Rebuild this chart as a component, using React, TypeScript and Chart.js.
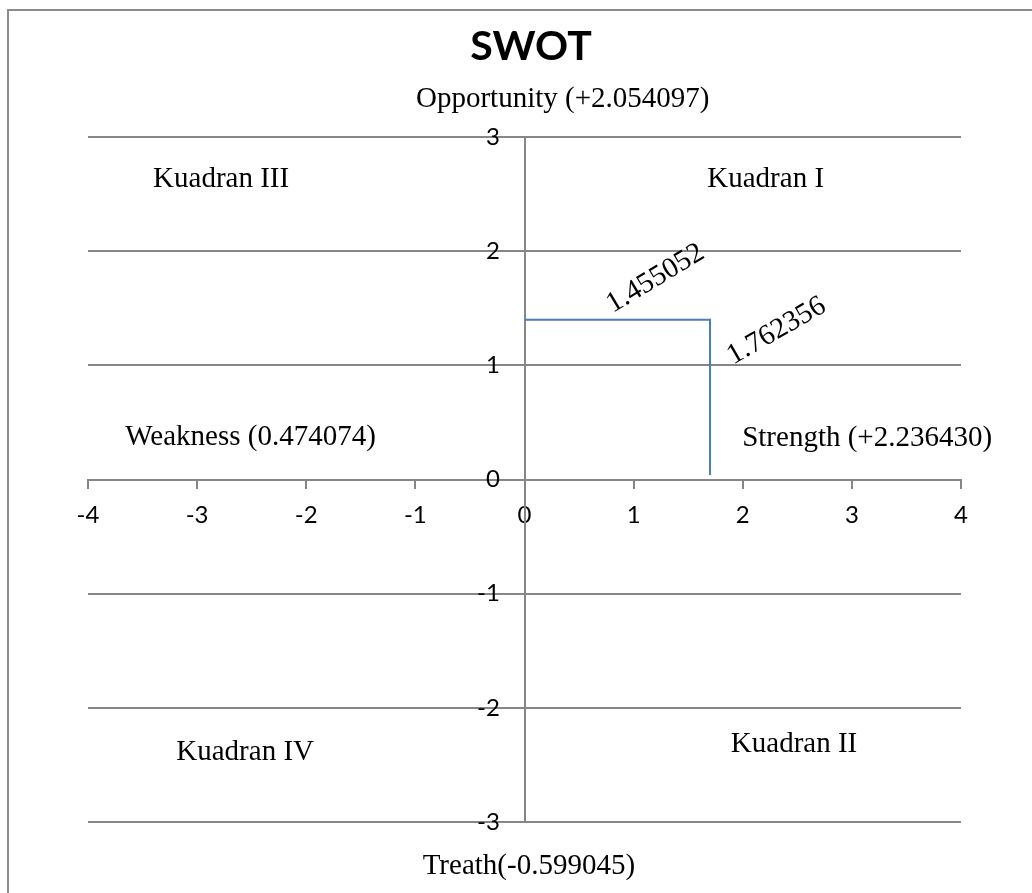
import React, { useEffect, useRef } from "react";
import { Chart, registerables } from "chart.js";

Chart.register(...registerables);

// Axis ranges and tick steps
const xRange = [-4, 4];
const yRange = [-3, 3];
const tickStep = 1;

// The single blue series (a corner path from the Y axis to the X axis)
const pathX = [0, 1.7, 1.7];
const pathY = [1.4, 1.4, 0.04];

// Text shown on the chart
const labelTexts = [
  "SWOT",
  "Opportunity (+2.054097)",
  "Treath(-0.599045)",
  "Kuadran III",
  "Kuadran I",
  "Weakness (0.474074)",
  "Strength (+2.236430)",
  "Kuadran IV",
  "Kuadran II",
  "1.455052",
  "1.762356",
];

const SERIF = '29px "Liberation Serif", "Times New Roman", serif';
const TITLE = 'bold 41px Lato, "Open Sans", sans-serif';

// Where each text sits, in data units of the chart's own scales
const labelPlacement = [
  { x: 0.06, y: 3.79, angle: 0, font: TITLE },
  { x: 0.35, y: 3.33, angle: 0, font: SERIF },
  { x: 0.04, y: -3.39, angle: 0, font: SERIF },
  { x: -2.78, y: 2.63, angle: 0, font: SERIF },
  { x: 2.21, y: 2.63, angle: 0, font: SERIF },
  { x: -2.51, y: 0.37, angle: 0, font: SERIF },
  { x: 3.14, y: 0.36, angle: 0, font: SERIF },
  { x: -2.56, y: -2.39, angle: 0, font: SERIF },
  { x: 2.47, y: -2.32, angle: 0, font: SERIF },
  { x: 1.2, y: 1.76, angle: -31, font: SERIF },
  { x: 2.31, y: 1.3, angle: -30, font: SERIF },
];

const GRID = "#868686";
const TICK_FONT = { family: 'Lato, "Open Sans", sans-serif', size: 24 };

const textPlugin = {
  id: "swotText",
  afterDraw(chart: any) {
    const { ctx } = chart;
    const xs = chart.scales.x;
    const ys = chart.scales.y;
    labelTexts.forEach((t, i) => {
      const p = labelPlacement[i];
      ctx.save();
      ctx.translate(xs.getPixelForValue(p.x), ys.getPixelForValue(p.y));
      ctx.rotate((p.angle * Math.PI) / 180);
      ctx.font = p.font;
      ctx.fillStyle = "#000";
      ctx.textAlign = "center";
      ctx.textBaseline = "middle";
      ctx.fillText(t, 0, 0);
      ctx.restore();
    });
  },
};

export default function App() {
  const ref = useRef<HTMLCanvasElement | null>(null);

  useEffect(() => {
    if (!ref.current) return;
    const chart = new Chart(ref.current, {
      type: "scatter",
      data: {
        datasets: [
          {
            label: "SWOT",
            data: pathX.map((x, i) => ({ x, y: pathY[i] })),
            showLine: true,
            borderColor: "#4a7ebb",
            backgroundColor: "#4a7ebb",
            borderWidth: 2,
            pointRadius: 0,
            tension: 0,
          },
        ],
      },
      options: {
        animation: false,
        responsive: false,
        layout: { padding: { left: 88, right: 71, top: 137, bottom: 71 } },
        plugins: {
          legend: { display: false },
          title: { display: false },
          tooltip: { enabled: false },
        },
        scales: {
          x: {
            type: "linear",
            min: xRange[0],
            max: xRange[1],
            position: { y: 0 },
            afterFit: (s: any) => {
              s.height = 0;
            },
            ticks: {
              stepSize: tickStep,
              color: "#000",
              font: TICK_FONT,
              padding: 13,
              maxRotation: 0,
            },
            grid: {
              drawOnChartArea: false,
              drawTicks: true,
              tickLength: 8,
              color: GRID,
              lineWidth: 2,
            },
            border: { display: true, color: GRID, width: 2 },
          },
          y: {
            type: "linear",
            min: yRange[0],
            max: yRange[1],
            position: { x: 0 },
            afterFit: (s: any) => {
              s.width = 0;
            },
            ticks: {
              stepSize: tickStep,
              color: "#000",
              font: TICK_FONT,
              padding: 0,
              callback: (v: any) => String(v) + "    ",
            },
            grid: {
              drawOnChartArea: true,
              drawTicks: true,
              tickLength: 8,
              color: GRID,
              lineWidth: 2,
            },
            border: { display: true, color: GRID, width: 2 },
          },
        },
      },
      plugins: [textPlugin],
    });
    return () => chart.destroy();
  }, []);

  return (
    <div>
      <div
        style={{
          position: "fixed",
          left: 7,
          top: 9,
          width: 1100,
          height: 1000,
          borderLeft: "2px solid #8c8c8c",
          borderTop: "2px solid #8c8c8c",
          background: "#fff",
        }}
      />
      <canvas
        ref={ref}
        width={1032}
        height={893}
        style={{ position: "fixed", left: 0, top: 0, width: 1032, height: 893 }}
      />
    </div>
  );
}
